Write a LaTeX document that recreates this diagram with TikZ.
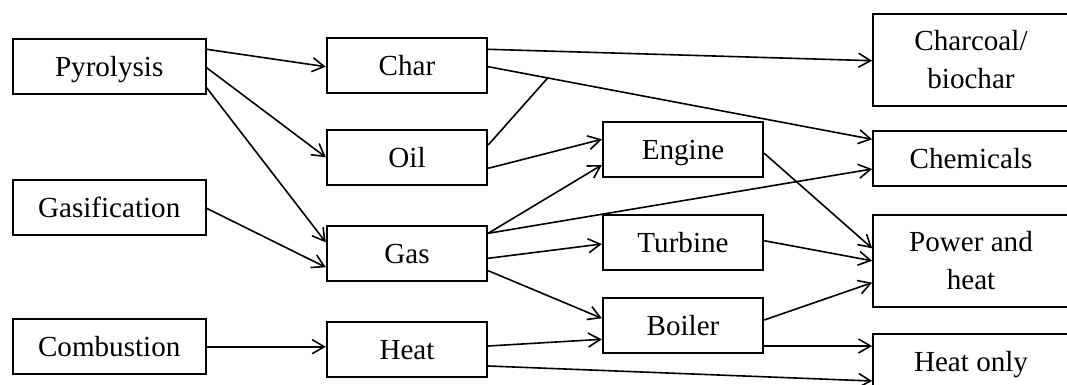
\documentclass[tikz,border=0pt]{standalone}
\usepackage{fontspec}
\setmainfont{Liberation Serif}
\usetikzlibrary{arrows.meta,calc}
\tikzset{
  box/.style={draw=black, line width=1.8pt, inner sep=0pt, minimum height=55pt,
    font=\fontsize{29.1}{38}\selectfont, align=center},
  oneline/.style={text height=25.9pt, text depth=6.3pt},
  leftbox/.style={box, oneline, minimum width=193pt},
  midbox/.style={box, oneline, minimum width=160.6pt},
  rightbox/.style={box, oneline, minimum width=196pt},
  tallbox/.style={box, minimum width=196pt, minimum height=92pt},
  flow/.style={line width=1.6pt, -{Straight Barb[length=12pt,width=14pt,line width=1.6pt]}},
  plain/.style={line width=1.6pt}
}
\begin{document}
\begin{tikzpicture}[x=1pt,y=-1pt]
\useasboundingbox (0,0) rectangle (1067,385);
\clip (0,0) rectangle (1067,385);
\fill[white] (0,0) rectangle (1067,385);
% left column
\node[leftbox] (pyro) at (109.2,66.7) {Pyrolysis};
\node[leftbox] (gasif) at (109.2,207.8) {Gasification};
\node[leftbox] (comb) at (109.2,346.7) {Combustion};
% second column
\node[midbox] (char) at (407,65.3) {Char};
\node[midbox] (oil) at (407,157.8) {Oil};
\node[midbox] (gas) at (407,253.3) {Gas};
\node[midbox] (heat) at (407,349.3) {Heat};
% third column
\node[midbox] (engine) at (683,149.2) {Engine};
\node[midbox] (turbine) at (683,242.5) {Turbine};
\node[midbox] (boiler) at (683,325.8) {Boiler};
% right column
\node[tallbox] (charcoal) at (971,60) {Charcoal/\\biochar};
\node[rightbox] (chem) at (971,158.5) {Chemicals};
\node[tallbox] (power) at (971,260.8) {Power and\\heat};
\node[rightbox] (heatonly) at (971,361.8) {Heat only};
% connectors
\draw[flow] ($(pyro.east)+(0,-17.4)$) -- ($(char.west)+(0,1.4)$);
\draw[flow] ($(pyro.east)+(0,1.0)$) -- ($(oil.west)+(0,-0.5)$);
\draw[flow] ($(pyro.east)+(0,21)$) -- ($(gas.west)+(0,-11)$);
\draw[flow] ($(gasif.east)+(0,0.5)$) -- ($(gas.west)+(0,14)$);
\draw[flow] (comb.east) -- (comb.east -| heat.west);
\coordinate (c7s) at ($(char.east)+(0,1.4)$);
\coordinate (c7e) at ($(chem.west)+(0,-19.2)$);
\draw[flow] ($(char.east)+(0,-16)$) -- ($(charcoal.west)+(0,0.7)$);
\draw[flow] (c7s) -- (c7e);
\coordinate (join) at ($(c7s)!0.155!(c7e)$);
\draw[plain] ($(oil.east)+(0,-12.8)$) -- (join);
\draw[flow] ($(oil.east)+(0,10.5)$) -- ($(engine.west)+(0,-9.9)$);
\draw[flow] ($(gas.east)+(0,-20)$) -- ($(engine.west)+(0,15.8)$);
\draw[flow] ($(gas.east)+(0,-20)$) -- ($(chem.west)+(0,10.5)$);
\draw[flow] ($(gas.east)+(0,5)$) -- ($(turbine.west)+(0,1.5)$);
\draw[flow] ($(gas.east)+(0,17.4)$) -- ($(boiler.west)+(0,-7.5)$);
\draw[flow] ($(heat.east)+(0,-3.3)$) -- ($(boiler.west)+(0,13.5)$);
\draw[flow] ($(heat.east)+(0,16.7)$) -- ($(heatonly.west)+(0,19.2)$);
\draw[flow] ($(engine.east)+(0,4.1)$) -- ($(power.west)+(0,-12.5)$);
\draw[flow] ($(turbine.east)+(0,-1.8)$) -- ($(power.west)+(0,0)$);
\draw[flow] ($(boiler.east)+(0,-5.8)$) -- ($(power.west)+(0,21.9)$);
\draw[flow] ($(boiler.east)+(0,20.2)$) -- ($(heatonly.west)+(0,-15.8)$);
\end{tikzpicture}
\end{document}
